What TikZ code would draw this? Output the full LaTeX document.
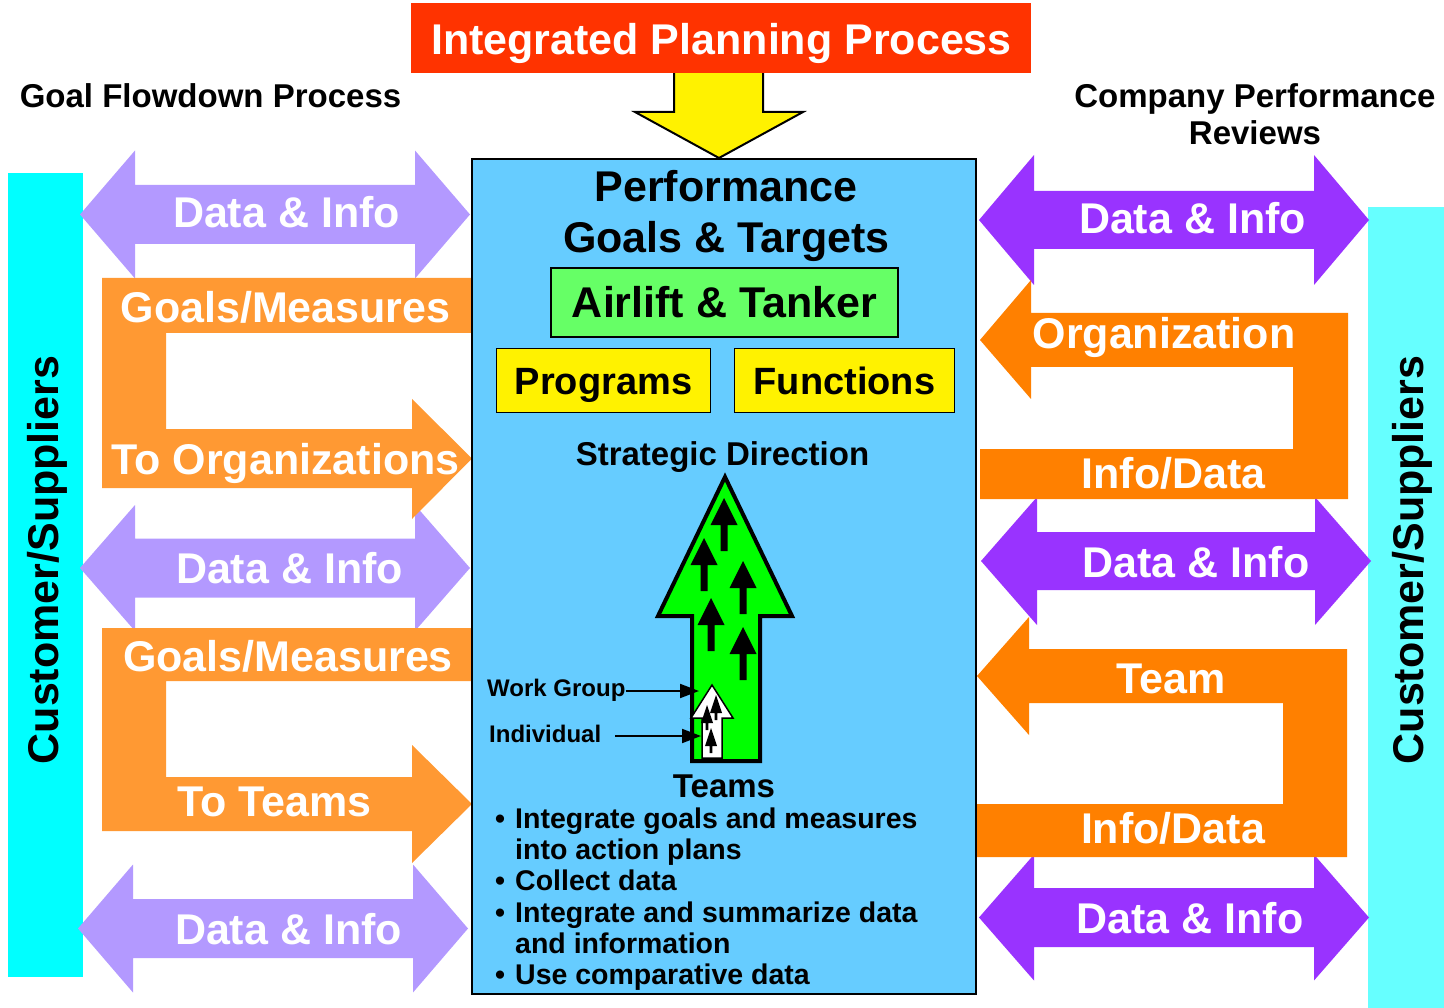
\documentclass[tikz,border=0pt]{standalone}
\usepackage{fontspec}
\setmainfont{Liberation Sans}
\usetikzlibrary{arrows.meta}
\definecolor{titlered}{HTML}{FF3300}
\definecolor{boxblue}{HTML}{66CCFF}
\definecolor{airgreen}{HTML}{66FF66}
\definecolor{biggreen}{HTML}{00FF00}
\definecolor{lpurple}{HTML}{B399FF}
\definecolor{dpurple}{HTML}{9933FF}
\definecolor{lorange}{HTML}{FF9933}
\definecolor{dorange}{HTML}{FF8000}
\definecolor{cyanL}{HTML}{00FFFF}
\definecolor{cyanR}{HTML}{66FFFF}
\newcommand\dblarr[7]{% color, xL, xR, yc, headlen, headhalf, shafthalf
 \fill[#1] (#2,#4) -- ({#2+#5},{#4-#6}) -- ({#2+#5},{#4-#7}) -- ({#3-#5},{#4-#7}) -- ({#3-#5},{#4-#6}) -- (#3,#4) -- ({#3-#5},{#4+#6}) -- ({#3-#5},{#4+#7}) -- ({#2+#5},{#4+#7}) -- ({#2+#5},{#4+#6}) -- cycle;}
\newcommand\smallup[2]{\fill[black] (#1,#2) -- ({#1+13.5},{#2+27}) -- ({#1+3.5},{#2+27}) -- ({#1+3.5},{#2+53}) -- ({#1-3.5},{#2+53}) -- ({#1-3.5},{#2+27}) -- ({#1-13.5},{#2+27}) -- cycle;}
\newcommand\tinyup[3]{\fill[black] (#1,#2) -- ({#1+6},{#2+18}) -- ({#1+1.4},{#2+18}) -- ({#1+1.4},{#3}) -- ({#1-1.4},{#3}) -- ({#1-1.4},{#2+18}) -- ({#1-6},{#2+18}) -- cycle;}
\begin{document}
\begin{tikzpicture}[x=1pt,y=-1pt,
  bigtxt/.style={font=\fontsize{43}{47}\selectfont\bfseries, inner sep=0pt, anchor=base},
  wtxt/.style={bigtxt, text=white},
  midtxt/.style={font=\fontsize{33}{37}\selectfont\bfseries, inner sep=0pt, anchor=base},
  lbltxt/.style={font=\fontsize{24}{28}\selectfont\bfseries, inner sep=0pt, anchor=base west},
  bultxt/.style={font=\fontsize{28.5}{31}\selectfont\bfseries, inner sep=0pt, anchor=base west},
  bulmark/.style={font=\fontsize{28.5}{31}\selectfont\bfseries, inner sep=0pt, anchor=base},
  ptr/.style={-{Triangle[length=19pt,width=14pt]}, line width=2pt}
]
\useasboundingbox (0,0) rectangle (1444,1008);

% cyan side bars
\fill[cyanL] (8,173) rectangle (83,977);
\fill[cyanR] (1368,207) rectangle (1444,1008);
\node[bigtxt, rotate=90] (custL) at (58,560) {Customer/Suppliers};
\node[bigtxt, rotate=90] (custR) at (1423,560) {Customer/Suppliers};

% top labels
\node[midtxt] (gfp) at (210.5,107.5) {Goal Flowdown Process};
\node[midtxt] (cpr1) at (1255,107.5) {Company Performance};
\node[midtxt] (cpr2) at (1255,144.5) {Reviews};

% left double arrows
\dblarr{lpurple}{80}{470}{214.5}{55}{64}{29.5}
\dblarr{lpurple}{80}{470}{568}{55}{63}{29.5}
\dblarr{lpurple}{78}{468}{928.5}{55}{64}{29.5}
% right double arrows
\dblarr{dpurple}{979}{1369}{220}{55}{65}{29}
\dblarr{dpurple}{981}{1371}{561}{56}{64}{29}
\dblarr{dpurple}{979}{1369}{917.5}{55}{63}{29.5}

% left orange U-arrows
\fill[lorange] (102,278) -- (472,278) -- (472,333) -- (166,333) -- (166,429) -- (412,429) -- (412,399) -- (472,458.5) -- (412,519) -- (412,488) -- (102,488) -- cycle;
\fill[lorange] (102,628) -- (473,628) -- (473,681) -- (166,681) -- (166,777) -- (412,777) -- (412,745) -- (472,804) -- (412,863) -- (412,831) -- (102,831) -- cycle;
% right orange U-arrows
\fill[dorange] (980,340) -- (1031,280) -- (1031,313) -- (1348,313) -- (1348,499) -- (980,499) -- (980,449) -- (1293,449) -- (1293,367) -- (1031,367) -- (1031,399) -- cycle;
\fill[dorange] (977,676) -- (1029,617) -- (1029,649) -- (1347,649) -- (1347,857) -- (977,857) -- (977,804) -- (1283,804) -- (1283,703) -- (1029,703) -- (1029,735) -- cycle;

% arrow texts left
\node[wtxt] (l1) at (286.5,228) {Data \& Info};
\node[wtxt] (l2) at (285.5,323) {Goals/Measures};
\node[wtxt] (l3) at (285.5,474) {To Organizations};
\node[wtxt] (l4) at (289.5,583) {Data \& Info};
\node[wtxt] (l5) at (288,671) {Goals/Measures};
\node[wtxt] (l6) at (274.5,816) {To Teams};
\node[wtxt] (l7) at (288.5,944) {Data \& Info};
% arrow texts right
\node[wtxt] (r1) at (1192.5,234) {Data \& Info};
\node[wtxt] (r2) at (1164,349) {Organization};
\node[wtxt] (r3) at (1173.5,488) {Info/Data};
\node[wtxt] (r4) at (1196,577) {Data \& Info};
\node[wtxt] (r5) at (1171,693) {Team};
\node[wtxt] (r6) at (1173,843) {Info/Data};
\node[wtxt] (r7) at (1190,933) {Data \& Info};

% central box
\filldraw[fill=boxblue, draw=black, line width=2pt] (472,159) rectangle (976,994);

% yellow arrow and title
\fill[yellow] (674,72) -- (674,112) -- (635,112) -- (719,158) -- (803,112) -- (763,112) -- (763,72) -- cycle;
\draw[black, line width=2pt, line join=miter] (674,72) -- (674,112) -- (635,112) -- (719,158) -- (803,112) -- (763,112) -- (763,72);
\fill[titlered] (411,3) rectangle (1031,73);
\node[wtxt] (title) at (721.5,55) {Integrated Planning Process};

% central texts
\node[bigtxt] (perf) at (726,202) {Performance};
\node[bigtxt] (goals) at (726.5,253) {Goals \& Targets};
\node[draw=black, line width=2pt, fill=airgreen, minimum width=347pt, minimum height=69pt, inner sep=0pt,
      font=\fontsize{43}{47}\selectfont\bfseries, text height=31pt, text depth=0pt] (air) at (724.5,302.5) {Airlift \& Tanker};
\node[draw=black, line width=1.5pt, fill=yellow, minimum width=214pt, minimum height=64pt, inner sep=0pt,
      font=\fontsize{38}{42}\selectfont\bfseries, text height=27.5pt, text depth=0pt] (prog) at (603.5,380.5) {Programs};
\node[draw=black, line width=1.5pt, fill=yellow, minimum width=220pt, minimum height=64pt, inner sep=0pt,
      font=\fontsize{38}{42}\selectfont\bfseries, text height=27.5pt, text depth=0pt] (func) at (844.5,380.5) {Functions};
\node[midtxt] (strat) at (722.5,465.5) {Strategic Direction};

% big green arrow
\filldraw[fill=biggreen, draw=black, line width=4pt, line join=miter] (725,477) -- (792,616) -- (760,616) -- (760,761) -- (692,761) -- (692,616) -- (658,616) -- cycle;
\smallup{724}{498}
\smallup{704}{538}
\smallup{743}{561}
\smallup{711}{598}
\smallup{743}{627}
% white small arrow
\filldraw[fill=white, draw=black, line width=1.5pt, line join=miter] (712,685) -- (733,718) -- (722,718) -- (722,758) -- (702,758) -- (702,718) -- (691,718) -- cycle;
\tinyup{716}{695}{720}
\tinyup{707}{705}{730}
\tinyup{711}{728}{753}

% labels with pointers
\node[lbltxt] (wg) at (487,696.5) {Work Group};
\node[lbltxt] (ind) at (489,742.5) {Individual};
\coordinate (wgtip) at (699,691);
\coordinate (indtip) at (701,736);
\coordinate (indstart) at (615,736);
\draw[ptr] (wg.east |- wgtip) -- (wgtip);
\draw[ptr] (indstart) -- (indtip);

% teams and bullets
\node[midtxt] (teams) at (724,797.5) {Teams};
\node[bulmark] (b1) at (500,828.5) {\textbullet};
\node[bultxt] (t1) at (515,828.5) {Integrate goals and measures};
\node[bultxt] (t2) at (515,859.7) {into action plans};
\node[bulmark] (b3) at (500,890.9) {\textbullet};
\node[bultxt] (t3) at (515,890.9) {Collect data};
\node[bulmark] (b4) at (500,922.1) {\textbullet};
\node[bultxt] (t4) at (515,922.1) {Integrate and summarize data};
\node[bultxt] (t5) at (515,953.3) {and information};
\node[bulmark] (b6) at (500,984.5) {\textbullet};
\node[bultxt] (t6) at (515,984.5) {Use comparative data};
\end{tikzpicture}
\end{document}
